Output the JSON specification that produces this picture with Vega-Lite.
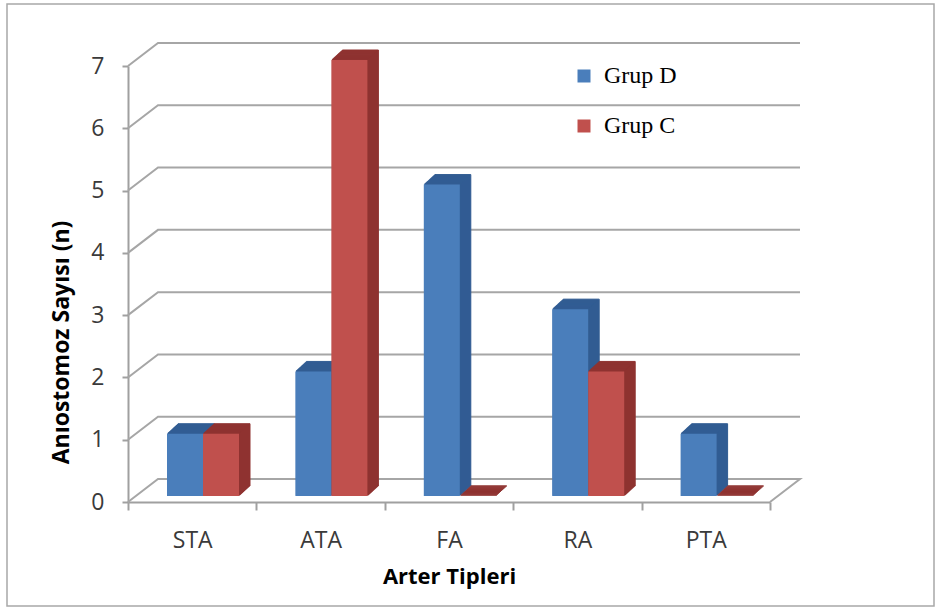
{
  "$schema": "https://vega.github.io/schema/vega-lite/v6.json",
  "width": 642,
  "height": 436,
  "autosize": {"type": "none"},
  "padding": {"left": 128, "top": 66, "right": 171, "bottom": 108},
  "background": "white",
  "config": {
    "view": {"stroke": null},
    "font": "Open Sans"
  },
  "datasets": {
    "counts": [
      {"cat": "STA", "grup": "Grup D", "n": 1},
      {"cat": "STA", "grup": "Grup C", "n": 1},
      {"cat": "ATA", "grup": "Grup D", "n": 2},
      {"cat": "ATA", "grup": "Grup C", "n": 7},
      {"cat": "FA", "grup": "Grup D", "n": 5},
      {"cat": "FA", "grup": "Grup C", "n": 0},
      {"cat": "RA", "grup": "Grup D", "n": 3},
      {"cat": "RA", "grup": "Grup C", "n": 2},
      {"cat": "PTA", "grup": "Grup D", "n": 1},
      {"cat": "PTA", "grup": "Grup C", "n": 0}
    ],
    "walls": [{"v": 1}, {"v": 2}, {"v": 3}, {"v": 4}, {"v": 5}, {"v": 6}, {"v": 7}],
    "floor": [{"v": 0}]
  },
  "data": {"name": "counts"},
  "encoding": {
    "x": {
      "field": "cat",
      "type": "nominal",
      "title": "Arter Tipleri",
      "scale": {"domain": ["STA", "ATA", "FA", "RA", "PTA"], "paddingInner": 0, "paddingOuter": 0},
      "axis": {
        "grid": false,
        "domainColor": "#a0a0a0",
        "domainWidth": 2,
        "tickBand": "extent",
        "tickColor": "#a0a0a0",
        "tickWidth": 2,
        "tickSize": 8,
        "labelAngle": 0,
        "labelFontSize": 23,
        "labelColor": "#3a3a3a",
        "labelPadding": 19,
        "titleFontSize": 22,
        "titleFontWeight": "bold",
        "titleColor": "black",
        "titleBaseline": "alphabetic",
        "titleY": 81
      }
    },
    "y": {
      "field": "n",
      "type": "quantitative",
      "title": "Anıostomoz Sayısı (n)",
      "scale": {"domain": [0, 7], "nice": false, "zero": true},
      "axis": {
        "values": [0, 1, 2, 3, 4, 5, 6, 7],
        "grid": false,
        "domainColor": "#a0a0a0",
        "domainWidth": 2,
        "tickColor": "#a0a0a0",
        "tickWidth": 2,
        "tickSize": 6,
        "labelFontSize": 23,
        "labelColor": "#3a3a3a",
        "labelPadding": 18,
        "titleFontSize": 23,
        "titleFontWeight": "bold",
        "titleColor": "black",
        "titleBaseline": "alphabetic",
        "titleX": -60,
        "titleY": 276
      }
    }
  },
  "layer": [
    {
      "data": {"values": [{"v": 0}]},
      "mark": {"type": "point", "shape": "M-185.2,-498H741.8V104H-185.2Z", "size": 4, "filled": false, "stroke": "#a8a8a8", "strokeWidth": 1.5, "opacity": 1},
      "encoding": {
        "x": {"datum": "STA", "type": "nominal", "title": "Arter Tipleri"},
        "y": {"field": "v", "type": "quantitative", "title": "Anıostomoz Sayısı (n)"}
      }
    },
    {
      "data": {"name": "walls"},
      "mark": {"type": "point", "shape": "M-64.2,0L-34.2,-23L607.8,-23", "size": 4, "filled": false, "stroke": "#a6a6a6", "strokeWidth": 2, "opacity": 1},
      "encoding": {
        "x": {"datum": "STA", "type": "nominal", "title": "Arter Tipleri"},
        "y": {"field": "v", "type": "quantitative", "title": "Anıostomoz Sayısı (n)"}
      }
    },
    {
      "data": {"name": "floor"},
      "mark": {"type": "point", "shape": "M-64.2,0L-34.2,-23L607.8,-23L577.8,0", "size": 4, "filled": false, "stroke": "#a6a6a6", "strokeWidth": 2, "opacity": 1},
      "encoding": {
        "x": {"datum": "STA", "type": "nominal", "title": "Arter Tipleri"},
        "y": {"field": "v", "type": "quantitative", "title": "Anıostomoz Sayısı (n)"}
      }
    },
    {
      "transform": [{"filter": "datum.grup == 'Grup D'"}],
      "layer": [
        {"mark": {"type": "bar", "width": 36, "color": "#325d93", "stroke": "#325d93", "strokeWidth": 1, "xOffset": 3.8, "yOffset": -16, "y2Offset": -16}},
        {"mark": {"type": "bar", "width": 36, "color": "#325d93", "stroke": "#325d93", "strokeWidth": 1, "xOffset": 2.8, "yOffset": -15.1, "y2Offset": -15.1}},
        {"mark": {"type": "bar", "width": 36, "color": "#325d93", "stroke": "#325d93", "strokeWidth": 1, "xOffset": 1.8, "yOffset": -14.2, "y2Offset": -14.2}},
        {"mark": {"type": "bar", "width": 36, "color": "#325d93", "stroke": "#325d93", "strokeWidth": 1, "xOffset": 0.8, "yOffset": -13.3, "y2Offset": -13.3}},
        {"mark": {"type": "bar", "width": 36, "color": "#325d93", "stroke": "#325d93", "strokeWidth": 1, "xOffset": -0.2, "yOffset": -12.4, "y2Offset": -12.4}},
        {"mark": {"type": "bar", "width": 36, "color": "#325d93", "stroke": "#325d93", "strokeWidth": 1, "xOffset": -1.2, "yOffset": -11.5, "y2Offset": -11.5}},
        {"mark": {"type": "bar", "width": 36, "color": "#325d93", "stroke": "#325d93", "strokeWidth": 1, "xOffset": -2.2, "yOffset": -10.5, "y2Offset": -10.5}},
        {"mark": {"type": "bar", "width": 36, "color": "#325d93", "stroke": "#325d93", "strokeWidth": 1, "xOffset": -3.2, "yOffset": -9.6, "y2Offset": -9.6}},
        {"mark": {"type": "bar", "width": 36, "color": "#325d93", "stroke": "#325d93", "strokeWidth": 1, "xOffset": -4.2, "yOffset": -8.7, "y2Offset": -8.7}},
        {"mark": {"type": "bar", "width": 36, "color": "#325d93", "stroke": "#325d93", "strokeWidth": 1, "xOffset": -5.2, "yOffset": -7.8, "y2Offset": -7.8}},
        {"mark": {"type": "bar", "width": 36, "color": "#325d93", "stroke": "#325d93", "strokeWidth": 1, "xOffset": -6.2, "yOffset": -6.9, "y2Offset": -6.9}},
        {
          "mark": {"type": "bar", "width": 36, "xOffset": -7.2, "yOffset": -6, "y2Offset": -6},
          "encoding": {
            "color": {
              "field": "grup",
              "type": "nominal",
              "scale": {"domain": ["Grup D", "Grup C"], "range": ["#4a7ebb", "#c0504d"]},
              "legend": {
                "orient": "none",
                "legendX": 444,
                "legendY": -2,
                "title": null,
                "padding": 0,
                "symbolType": "square",
                "symbolSize": 169,
                "symbolStrokeWidth": 0,
                "labelFont": "Liberation Serif",
                "labelFontSize": 24,
                "labelColor": "black",
                "labelOffset": 8,
                "rowPadding": 26
              }
            }
          }
        }
      ]
    },
    {
      "transform": [{"filter": "datum.grup == 'Grup C'"}],
      "layer": [
        {"mark": {"type": "bar", "width": 36, "color": "#8f3331", "stroke": "#8f3331", "strokeWidth": 1, "xOffset": 39.8, "yOffset": -16, "y2Offset": -16}},
        {"mark": {"type": "bar", "width": 36, "color": "#8f3331", "stroke": "#8f3331", "strokeWidth": 1, "xOffset": 38.8, "yOffset": -15.1, "y2Offset": -15.1}},
        {"mark": {"type": "bar", "width": 36, "color": "#8f3331", "stroke": "#8f3331", "strokeWidth": 1, "xOffset": 37.8, "yOffset": -14.2, "y2Offset": -14.2}},
        {"mark": {"type": "bar", "width": 36, "color": "#8f3331", "stroke": "#8f3331", "strokeWidth": 1, "xOffset": 36.8, "yOffset": -13.3, "y2Offset": -13.3}},
        {"mark": {"type": "bar", "width": 36, "color": "#8f3331", "stroke": "#8f3331", "strokeWidth": 1, "xOffset": 35.8, "yOffset": -12.4, "y2Offset": -12.4}},
        {"mark": {"type": "bar", "width": 36, "color": "#8f3331", "stroke": "#8f3331", "strokeWidth": 1, "xOffset": 34.8, "yOffset": -11.5, "y2Offset": -11.5}},
        {"mark": {"type": "bar", "width": 36, "color": "#8f3331", "stroke": "#8f3331", "strokeWidth": 1, "xOffset": 33.8, "yOffset": -10.5, "y2Offset": -10.5}},
        {"mark": {"type": "bar", "width": 36, "color": "#8f3331", "stroke": "#8f3331", "strokeWidth": 1, "xOffset": 32.8, "yOffset": -9.6, "y2Offset": -9.6}},
        {"mark": {"type": "bar", "width": 36, "color": "#8f3331", "stroke": "#8f3331", "strokeWidth": 1, "xOffset": 31.8, "yOffset": -8.7, "y2Offset": -8.7}},
        {"mark": {"type": "bar", "width": 36, "color": "#8f3331", "stroke": "#8f3331", "strokeWidth": 1, "xOffset": 30.8, "yOffset": -7.8, "y2Offset": -7.8}},
        {"mark": {"type": "bar", "width": 36, "color": "#8f3331", "stroke": "#8f3331", "strokeWidth": 1, "xOffset": 29.8, "yOffset": -6.9, "y2Offset": -6.9}},
        {
          "mark": {"type": "bar", "width": 36, "xOffset": 28.8, "yOffset": -6, "y2Offset": -6},
          "encoding": {
            "color": {
              "field": "grup",
              "type": "nominal",
              "scale": {"domain": ["Grup D", "Grup C"], "range": ["#4a7ebb", "#c0504d"]}
            }
          }
        }
      ]
    }
  ]
}
